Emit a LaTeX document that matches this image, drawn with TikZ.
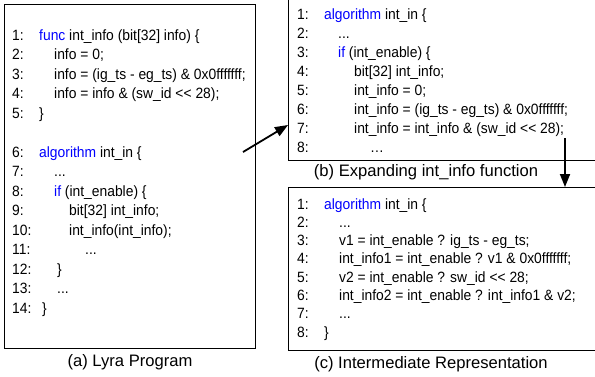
\documentclass[tikz,border=0pt]{standalone}
\usepackage{fontspec}
\setmainfont{Liberation Sans}
\newfontfamily\codefont{Liberation Sans}[FakeStretch=0.93]
\usetikzlibrary{arrows.meta}

\newcommand{\kw}[1]{\textcolor{blue}{#1}}
\newcommand{\lno}[1]{\makebox[27pt][l]{#1:}}
\newcommand{\shl}{<\kern0pt<}

\tikzset{
  box/.style={draw, line width=1.1pt, inner sep=0pt, anchor=north west},
  code/.style={anchor=base west, inner sep=0pt, font=\codefont\fontsize{14.9}{16}\selectfont},
  caption/.style={anchor=base, inner sep=0pt, font=\fontsize{16.6}{19}\selectfont},
  flow/.style={line width=1.8pt, -{Triangle[length=13pt,width=10pt]}}
}

\begin{document}
\begin{tikzpicture}[x=1pt, y=-1pt]
	\useasboundingbox (0,0) rectangle (595,376);
	\clip (0,0) rectangle (595,376);
	% the three panels
	\node[box, minimum width=251pt, minimum height=344pt] (prog) at (4,4) {};
	\node[box, minimum width=312pt, minimum height=162pt] (expand) at (288,-2) {};
	\node[box, minimum width=312pt, minimum height=163pt] (ir) at (288,187) {};

	% (a) Lyra program
	\node[code] (a1) at (12,40) {\lno{1}\kw{func} int\_info (bit[32] info) \{};
	\node[code] (a2) at (12,59.5) {\lno{2}\hspace*{15pt}info = 0;};
	\node[code] (a3) at (12,79) {\lno{3}\hspace*{15pt}info = (ig\_ts - eg\_ts) \& 0x0fffffff;};
	\node[code] (a4) at (12,98.5) {\lno{4}\hspace*{15pt}info = info \& (sw\_id \shl{} 28);};
	\node[code] (a5) at (12,118) {\lno{5}\}};
	\node[code] (a6) at (12,157) {\lno{6}\kw{algorithm} int\_in \{};
	\node[code] (a7) at (12,176.5) {\lno{7}\hspace*{15pt}...};
	\node[code] (a8) at (12,196) {\lno{8}\hspace*{15pt}\kw{if} (int\_enable) \{};
	\node[code] (a9) at (12,215.5) {\lno{9}\hspace*{30pt}bit[32] int\_info;};
	\node[code] (a10) at (12,235) {\lno{10}\hspace*{30pt}int\_info(int\_info);};
	\node[code] (a11) at (12,254.5) {\lno{11}\hspace*{46pt}...};
	\node[code] (a12) at (12,274) {\lno{12}\hspace*{18pt}\}};
	\node[code] (a13) at (12,293.5) {\lno{13}\hspace*{18pt}...};
	\node[code] (a14) at (12,313) {\lno{14}\hspace*{3pt}\}};
	\node[caption] (capa) at (130,366) {(a) Lyra Program};

	% (b) after inlining int_info
	\node[code] (b1) at (297,19) {\lno{1}\kw{algorithm} int\_in \{};
	\node[code] (b2) at (297,38) {\lno{2}\hspace*{14pt}...};
	\node[code] (b3) at (297,57) {\lno{3}\hspace*{14pt}\kw{if} (int\_enable) \{};
	\node[code] (b4) at (297,76) {\lno{4}\hspace*{30pt}bit[32] int\_info;};
	\node[code] (b5) at (297,95) {\lno{5}\hspace*{30pt}int\_info = 0;};
	\node[code] (b6) at (297,114) {\lno{6}\hspace*{30pt}int\_info = (ig\_ts - eg\_ts) \& 0x0fffffff;};
	\node[code] (b7) at (297,133) {\lno{7}\hspace*{30pt}int\_info = int\_info \& (sw\_id \shl{} 28);};
	\node[code] (b8) at (297,152) {\lno{8}\hspace*{46pt}…};
	\node[caption] (capb) at (426,176) {(b) Expanding int\_info function};

	% (c) intermediate representation
	\node[code] (c1) at (297,209) {\lno{1}\kw{algorithm} int\_in \{};
	\node[code] (c2) at (297,227.3) {\lno{2}\hspace*{15pt}...};
	\node[code] (c3) at (297,245.6) {\lno{3}\hspace*{15pt}v1 = int\_enable ? ig\_ts - eg\_ts;};
	\node[code] (c4) at (297,263.9) {\lno{4}\hspace*{15pt}int\_info1 = int\_enable ? v1 \& 0x0fffffff;};
	\node[code] (c5) at (297,282.2) {\lno{5}\hspace*{15pt}v2 = int\_enable ? sw\_id \shl{} 28;};
	\node[code] (c6) at (297,300.5) {\lno{6}\hspace*{15pt}int\_info2 = int\_enable ? int\_info1 \& v2;};
	\node[code] (c7) at (297,318.8) {\lno{7}\hspace*{15pt}...};
	\node[code] (c8) at (297,337.1) {\lno{8}\}};
	\node[caption] (capc) at (431,368) {(c) Intermediate Representation};

	% arrows between the panels
	\coordinate (fromprog) at (243,152);
	\coordinate (toexpand) at (expand.west |- 0,125);
	\coordinate (fromexpand) at (565,138);
	\coordinate (toir) at (565,187);
	\draw[flow] (fromprog) -- (toexpand);
	\draw[flow] (fromexpand) -- (toir);
\end{tikzpicture}
\end{document}
